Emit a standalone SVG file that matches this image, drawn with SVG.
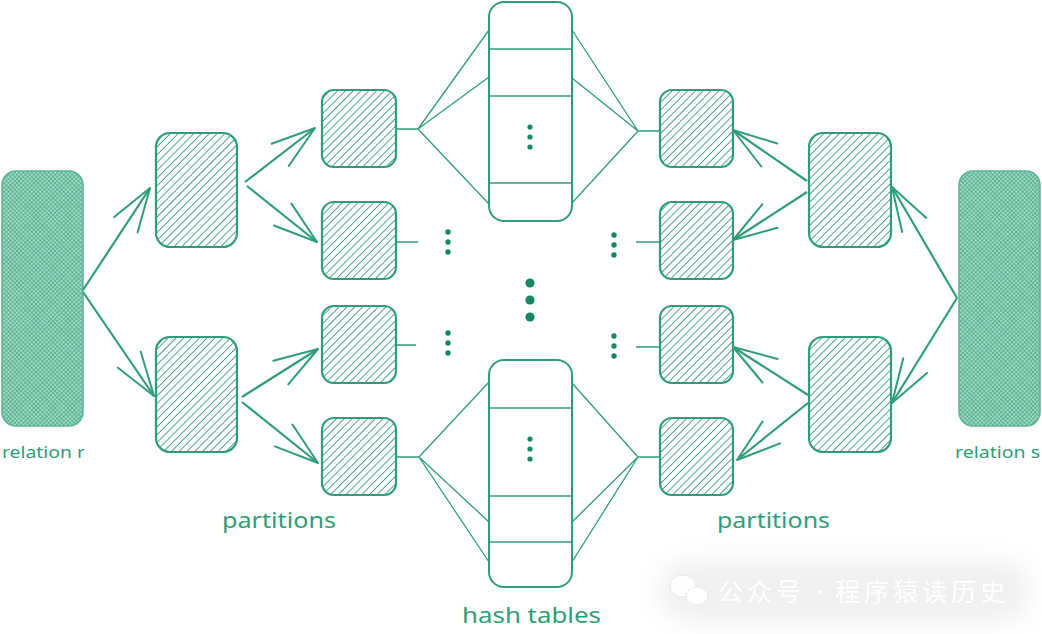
<svg xmlns="http://www.w3.org/2000/svg" width="1042" height="634" viewBox="0 0 1042 634">
<defs>
<pattern id="hatch" patternUnits="userSpaceOnUse" width="5.5" height="5.5" patternTransform="rotate(45)">
<line x1="0" y1="0" x2="0" y2="5.5" stroke="#2f9e76" stroke-width="1.7"/>
</pattern>
<pattern id="cross" patternUnits="userSpaceOnUse" width="3" height="3" patternTransform="rotate(45)">
<rect width="3" height="3" fill="#a5d9c5"/>
<line x1="0" y1="0" x2="0" y2="3" stroke="#2f9e76" stroke-width="1.1"/>
<line x1="0" y1="0" x2="3" y2="0" stroke="#2f9e76" stroke-width="1.1"/>
</pattern>
<marker id="arr" markerUnits="userSpaceOnUse" markerWidth="60" markerHeight="40" viewBox="-50 -20 60 40" refX="0" refY="0" orient="auto" overflow="visible">
<path d="M -44 -14 L 0 0 L -44 14" fill="none" stroke="#2f9e76" stroke-width="2" stroke-linecap="round" stroke-linejoin="round"/>
</marker>
<filter id="blur" x="-20%" y="-50%" width="140%" height="200%"><feGaussianBlur stdDeviation="12"/></filter>
</defs>
<style>
.box{fill:url(#hatch);stroke:#2f9e76;stroke-width:2.2}
.rel{fill:url(#cross);stroke:#5cb592;stroke-width:1.5}
.ht{fill:#fff;stroke:#2f9e76;stroke-width:2}
.div{stroke:#2f9e76;stroke-width:1.5}
.fan{stroke:#2f9e76;stroke-width:1.3;fill:none}
.arrow{stroke:#2f9e76;stroke-width:2.2;fill:none;marker-end:url(#arr)}
.dot{fill:#13895e}
.lbl{font-family:"Noto Sans","DejaVu Sans",sans-serif;fill:#2f9e76}
.wm{font-family:"Noto Sans CJK SC",sans-serif;fill:#fff;font-size:25px;letter-spacing:4px}
</style>
<rect width="1042" height="634" fill="#fff"/>

<g id="relation-r"><rect class="rel" x="2" y="171" width="81" height="255" rx="14"/></g>
<g id="relation-s"><rect class="rel" x="959" y="171" width="81" height="255" rx="14"/></g>

<g id="mid-left-top"><rect class="box" x="156" y="133" width="81" height="114" rx="14"/></g>
<g id="mid-left-bottom"><rect class="box" x="156" y="337" width="81" height="115" rx="14"/></g>
<g id="mid-right-top"><rect class="box" x="809" y="133" width="82" height="114" rx="14"/></g>
<g id="mid-right-bottom"><rect class="box" x="809" y="337" width="82" height="115" rx="14"/></g>

<g id="part-left-1"><rect class="box" x="322" y="90" width="74" height="77" rx="12"/></g>
<g id="part-left-2"><rect class="box" x="322" y="202" width="74" height="77" rx="12"/></g>
<g id="part-left-3"><rect class="box" x="322" y="306" width="74" height="77" rx="12"/></g>
<g id="part-left-4"><rect class="box" x="322" y="418" width="74" height="77" rx="12"/></g>
<g id="part-right-1"><rect class="box" x="660" y="90" width="73" height="77" rx="12"/></g>
<g id="part-right-2"><rect class="box" x="660" y="202" width="73" height="77" rx="12"/></g>
<g id="part-right-3"><rect class="box" x="660" y="306" width="73" height="77" rx="12"/></g>
<g id="part-right-4"><rect class="box" x="660" y="418" width="73" height="77" rx="12"/></g>

<g id="hash-top">
<rect class="ht" x="489" y="2" width="83" height="219" rx="15"/>
<line class="div" x1="489" y1="49" x2="572" y2="49"/>
<line class="div" x1="489" y1="96" x2="572" y2="96"/>
<line class="div" x1="489" y1="183" x2="572" y2="183"/>
<circle class="dot" cx="530" cy="127" r="2.6"/><circle class="dot" cx="530" cy="137" r="2.6"/><circle class="dot" cx="530" cy="147" r="2.6"/>
</g>
<g id="hash-bottom">
<rect class="ht" x="489" y="360" width="83" height="227" rx="15"/>
<line class="div" x1="489" y1="408" x2="572" y2="408"/>
<line class="div" x1="489" y1="496" x2="572" y2="496"/>
<line class="div" x1="489" y1="542" x2="572" y2="542"/>
<circle class="dot" cx="530" cy="439" r="2.6"/><circle class="dot" cx="530" cy="449" r="2.6"/><circle class="dot" cx="530" cy="459" r="2.6"/>
</g>

<g id="ellipses">
<circle class="dot" cx="448" cy="232" r="2.7"/><circle class="dot" cx="448" cy="242" r="2.7"/><circle class="dot" cx="448" cy="252" r="2.7"/>
<circle class="dot" cx="614" cy="235" r="2.7"/><circle class="dot" cx="614" cy="245" r="2.7"/><circle class="dot" cx="614" cy="255" r="2.7"/>
<circle class="dot" cx="448" cy="333" r="2.7"/><circle class="dot" cx="448" cy="343" r="2.7"/><circle class="dot" cx="448" cy="353" r="2.7"/>
<circle class="dot" cx="614" cy="336" r="2.7"/><circle class="dot" cx="614" cy="346" r="2.7"/><circle class="dot" cx="614" cy="356" r="2.7"/>
<circle class="dot" cx="530" cy="283" r="4.6"/><circle class="dot" cx="530" cy="300" r="4.6"/><circle class="dot" cx="530" cy="317" r="4.6"/>
</g>

<g id="connectors">
<path class="arrow" d="M83 290 L150 188"/>
<path class="arrow" d="M83 292 L154 396"/>
<path class="arrow" d="M245 182 L315 128"/>
<path class="arrow" d="M247 186 L317 242"/>
<path class="arrow" d="M242 397 L318 349"/>
<path class="arrow" d="M242 402 L318 463"/>
<path class="arrow" d="M807 181 L733 130"/>
<path class="arrow" d="M807 192 L733 240"/>
<path class="arrow" d="M808 395 L733 347"/>
<path class="arrow" d="M808 403 L737 460"/>
<path class="arrow" d="M957 298 L892 187"/>
<path class="arrow" d="M957 298 L892 403"/>
<path class="fan" d="M396 129 L418 129 M489 30 L418 129 L489 77 M418 129 L489 204"/>
<path class="fan" d="M660 131 L638 131 M572 30 L638 131 L572 78 M638 131 L572 203"/>
<path class="fan" d="M396 457 L419 457 M489 382 L419 457 L489 522 M419 457 L489 562"/>
<path class="fan" d="M660 457 L638 457 M572 383 L638 457 L572 522 M638 457 L572 562"/>
<path class="fan" d="M396 242 L418 242 M396 345 L416 345 M636 242 L660 242 M636 347 L660 347"/>
</g>

<g id="labels">
<text class="lbl" x="2" y="458" font-size="16" textLength="83" lengthAdjust="spacingAndGlyphs">relation r</text>
<text class="lbl" x="955" y="458" font-size="16" textLength="85" lengthAdjust="spacingAndGlyphs">relation s</text>
<text class="lbl" x="222" y="528" font-size="22" textLength="114" lengthAdjust="spacingAndGlyphs">partitions</text>
<text class="lbl" x="717" y="528" font-size="22" textLength="113" lengthAdjust="spacingAndGlyphs">partitions</text>
<text class="lbl" x="462" y="623" font-size="22" textLength="139" lengthAdjust="spacingAndGlyphs">hash tables</text>
</g>

<g id="watermark">
<rect x="660" y="560" width="370" height="62" rx="30" fill="#000" opacity="0.06" filter="url(#blur)"/>
<ellipse cx="683" cy="586" rx="13" ry="11" fill="#fff" stroke="#e8e8e8" stroke-width="1"/>
<ellipse cx="697" cy="596" rx="11" ry="9" fill="#fff" stroke="#e8e8e8" stroke-width="1"/>
<text class="wm" x="718" y="601">公众号</text>
<circle cx="820" cy="592" r="2" fill="#fff"/>
<text class="wm" x="835" y="601">程序猿读历史</text>
</g>
</svg>
